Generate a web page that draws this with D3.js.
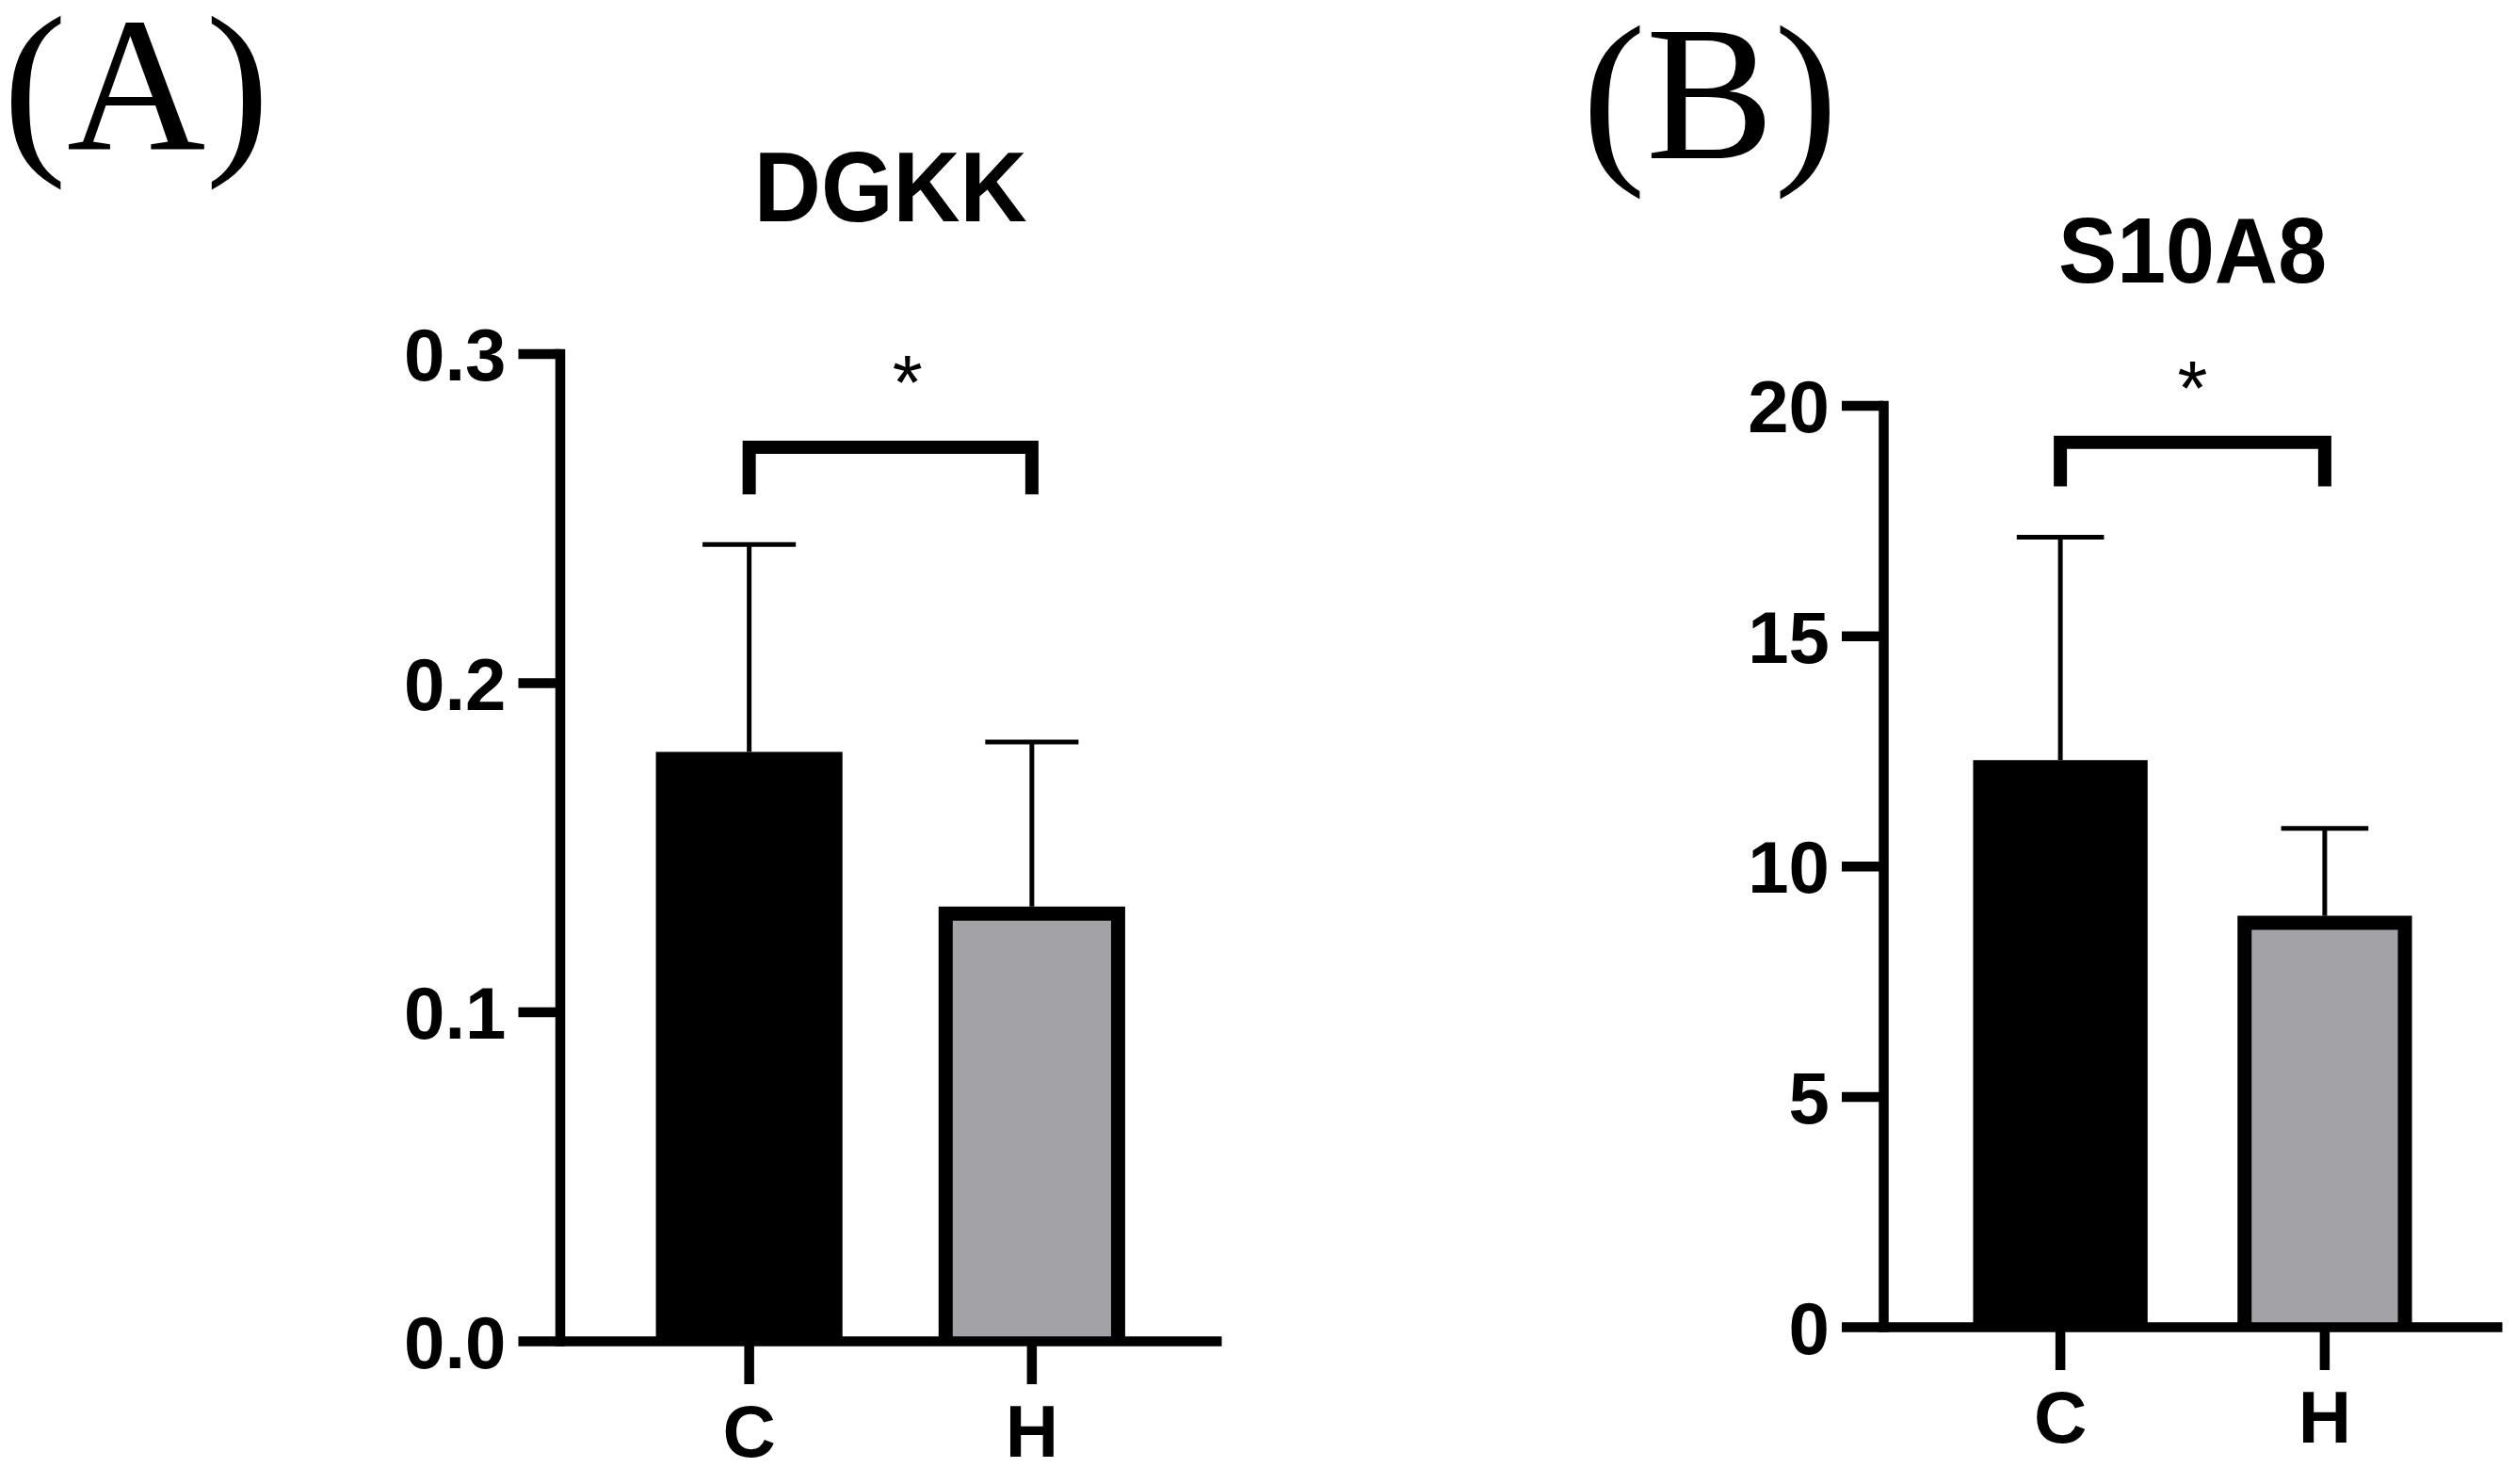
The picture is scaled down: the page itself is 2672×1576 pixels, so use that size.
<!DOCTYPE html>
<html lang="en">
<head>
  <meta charset="UTF-8">
  <title>DGKK and S10A8</title>
  <script src="https://d3js.org/d3.v7.min.js"></script>
  <style>
    html, body {margin: 0; padding: 0; background: #fff;}
    .tick text {font-family: "Liberation Sans", Arial, sans-serif; font-weight: bold; fill: #000;}
    .panel-title {font-family: "Liberation Sans", Arial, sans-serif; font-weight: bold;}
    .panel-letter {font-family: "Liberation Serif", "Times New Roman", serif;}
  </style>
</head>
<body>
<div id="chart"></div>
<script>
const groups = ["C", "H"];
const barColors = ["#000000", "#a3a2a7"];

const dgkkMean = [0.179, 0.132];
const dgkkSD = [0.063, 0.050];
const dgkkTicks = [0, 0.1, 0.2, 0.3];

const s10a8Mean = [12.3, 8.92];
const s10a8SD = [4.84, 1.9];
const s10a8Ticks = [0, 5, 10, 15, 20];

const W = 2672, H = 1576;
const axisW = 10.5, barStroke = 15, errW = 5;

const svg = d3.select("#chart").append("svg")
  .attr("width", W)
  .attr("height", H)
  .attr("viewBox", `0 0 ${W} ${H}`);

// layout of the two panels (pixels), the rest comes from the arrays above
const panels = [
  {letter: "(A)", letterX: 3, letterY: 158, title: "DGKK", titleSize: 105, titleLen: 290, titleY: 235,
   mean: dgkkMean, sd: dgkkSD, ticks: dgkkTicks, fmt: d3.format(".1f"),
   x0: 594.5, x1: 1297, y0: 1424, y1: 375.5,
   brTop: 0.2715, brLeg: 0.2572, starY: 0.2833, starDx: 18},
  {letter: "(B)", letterX: 1680, letterY: 168, title: "S10A8", titleSize: 98, titleLen: 285, titleY: 300,
   mean: s10a8Mean, sd: s10a8SD, ticks: s10a8Ticks, fmt: d3.format("d"),
   x0: 2000, x1: 2657, y0: 1409, y1: 430.5,
   brTop: 19.2, brLeg: 18.24, starY: 19.8, starDx: 0}
];

panels.forEach(p => {
  const x = d3.scaleBand()
    .domain(groups)
    .range([p.x0, p.x1])
    .paddingInner(0.34)
    .paddingOuter(0.34);
  const y = d3.scaleLinear()
    .domain([0, d3.max(p.ticks)])
    .range([p.y0, p.y1]);
  const bw = x.bandwidth();
  const data = groups.map((g, i) => ({g, mean: p.mean[i], sd: p.sd[i], color: barColors[i]}));

  svg.append("text")
    .attr("class", "panel-letter")
    .attr("x", p.letterX)
    .attr("y", p.letterY)
    .attr("font-size", 204)
    .text(p.letter);

  svg.append("text")
    .attr("class", "panel-title")
    .attr("x", (p.x0 + p.x1) / 2)
    .attr("y", p.titleY)
    .attr("text-anchor", "middle")
    .attr("font-size", p.titleSize)
    .attr("textLength", p.titleLen)
    .attr("lengthAdjust", "spacingAndGlyphs")
    .text(p.title);

  const g = svg.append("g");

  // error bars (upper only)
  g.selectAll(".err")
    .data(data)
    .enter()
    .append("line")
    .attr("x1", d => x(d.g) + bw / 2)
    .attr("x2", d => x(d.g) + bw / 2)
    .attr("y1", d => y(d.mean))
    .attr("y2", d => y(d.mean + d.sd))
    .attr("stroke", "#000")
    .attr("stroke-width", errW);
  g.selectAll(".cap")
    .data(data)
    .enter()
    .append("line")
    .attr("x1", d => x(d.g) + bw / 4)
    .attr("x2", d => x(d.g) + bw * 3 / 4)
    .attr("y1", d => y(d.mean + d.sd))
    .attr("y2", d => y(d.mean + d.sd))
    .attr("stroke", "#000")
    .attr("stroke-width", errW);

  // bars: border on left, top and right only, outer edge on the band edges
  const s = barStroke / 2;
  g.selectAll(".bar")
    .data(data)
    .enter()
    .append("path")
    .attr("d", d => `M${x(d.g) + s},${y(0)}V${y(d.mean) + s}H${x(d.g) + bw - s}V${y(0)}`)
    .attr("fill", d => d.color)
    .attr("stroke", "#000")
    .attr("stroke-width", barStroke)
    .attr("stroke-linejoin", "miter");

  // y axis
  const yAxis = svg.append("g")
    .attr("transform", `translate(${p.x0},0)`)
    .call(d3.axisLeft(y)
      .tickValues(p.ticks)
      .tickFormat(p.fmt)
      .tickSize(44)
      .tickSizeOuter(0)
      .tickPadding(13));
  yAxis.select(".domain")
    .attr("stroke-width", axisW)
    .attr("stroke-linecap", "square");
  yAxis.selectAll(".tick line").attr("stroke-width", axisW);
  yAxis.selectAll(".tick text")
    .attr("font-size", 78)
    .attr("dy", "0.36em");

  // x axis
  const xAxis = svg.append("g")
    .attr("transform", `translate(0,${p.y0})`)
    .call(d3.axisBottom(x)
      .tickSize(46)
      .tickSizeOuter(0)
      .tickPadding(22));
  xAxis.select(".domain").attr("stroke-width", axisW);
  xAxis.selectAll(".tick line").attr("stroke-width", axisW);
  xAxis.selectAll(".tick text").attr("font-size", 78);

  // significance bracket
  const cx0 = x(groups[0]) + bw / 2, cx1 = x(groups[1]) + bw / 2;
  svg.append("path")
    .attr("d", `M${cx0},${y(p.brLeg)}V${y(p.brTop)}H${cx1}V${y(p.brLeg)}`)
    .attr("fill", "none")
    .attr("stroke", "#000")
    .attr("stroke-width", 14)
    .attr("stroke-linejoin", "miter");

  svg.append("text")
    .attr("x", (cx0 + cx1) / 2 + p.starDx)
    .attr("y", y(p.starY))
    .attr("text-anchor", "middle")
    .attr("font-family", "'Liberation Sans', Arial, sans-serif")
    .attr("font-size", 82)
    .text("*");
});
</script>
</body>
</html>
